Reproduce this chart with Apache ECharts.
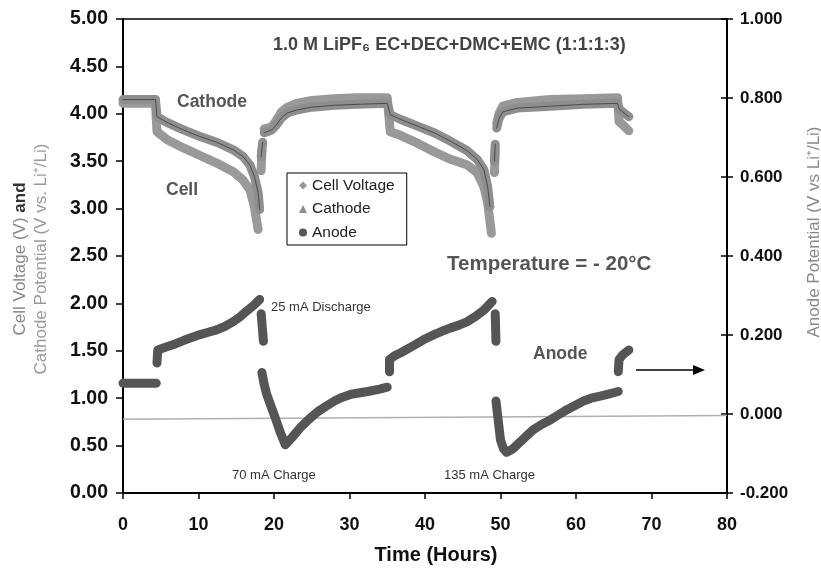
<!DOCTYPE html>
<html>
<head>
<meta charset="utf-8">
<script src="https://cdn.jsdelivr.net/npm/echarts@6/dist/echarts.min.js"></script>
<style>
html,body{margin:0;padding:0;background:#fff;}
#chart{width:821px;height:568px;}
</style>
</head>
<body>
<div id="chart"></div>
<script>
// ---- data (time in hours) ----
const xTicks = [0, 10, 20, 30, 40, 50, 60, 70, 80];

// Cell voltage (V), left axis — segments separated where the trace breaks
const cellSegments = [
  [[0,4.11],[4.3,4.11],[4.5,3.81],[5.8,3.73],[8,3.64],[10.2,3.56],[12.4,3.48],[14.6,3.39],[15.9,3.30],[16.8,3.20],[17.4,3.02],[17.9,2.78]],
  [[18.3,3.40],[18.4,3.62]],
  [[18.7,3.84],[19.7,3.86],[20.3,3.93],[21,4.02],[21.8,4.07],[23,4.11],[25,4.14],[28,4.16],[31,4.17],[35,4.17],
   [35.4,3.81],[36.8,3.77],[39,3.69],[41.2,3.60],[43.4,3.52],[45.6,3.46],[46.9,3.38],[47.8,3.23],[48.3,3.06],[48.8,2.74]],
  [[49.2,3.38],[49.3,3.62]],
  [[49.5,3.90],[49.8,4.00],[50.3,4.08],[52.2,4.12],[56.6,4.15],[61,4.16],[65.5,4.17],[65.7,3.92],[66.5,3.86],[67,3.82]]
];

// Cathode potential (V vs Li+/Li), left axis
const cathodeSegments = [
  [[0,4.15],[4.3,4.15],[4.5,3.97],[5.8,3.91],[8,3.83],[10.2,3.76],[12.4,3.70],[14.6,3.62],[15.9,3.55],[16.8,3.46],[17.4,3.34],[17.9,3.17],[18.1,2.99]],
  [[18.3,3.55],[18.5,3.70]],
  [[18.7,3.80],[19.7,3.83],[20.3,3.88],[21,3.96],[21.8,4.01],[23,4.04],[25,4.07],[28,4.09],[31,4.10],[35,4.11],
   [35.4,3.99],[36.8,3.94],[39,3.87],[41.2,3.80],[43.4,3.71],[45.6,3.61],[46.9,3.52],[47.8,3.41],[48.3,3.23],[48.6,3.02]],
  [[49.2,3.50],[49.3,3.68]],
  [[49.5,3.85],[49.8,3.95],[50.3,4.02],[52.2,4.06],[56.6,4.08],[61,4.10],[65.5,4.11],[65.7,4.05],[66.5,4.00],[67,3.97]]
];

// Anode potential (V vs Li+/Li), right axis
const anodeSegments = [
  [[0,0.078],[4.4,0.078]],
  [[4.5,0.129],[4.6,0.162],[5.8,0.170],[7,0.178],[8,0.186],[9,0.193],[10.2,0.201],[11.3,0.207],[12.4,0.213],[13.5,0.222],[14.6,0.234],[15.5,0.246],[16.4,0.261],[17.3,0.275],[18.1,0.290]],
  [[18.3,0.254],[18.6,0.184]],
  [[18.4,0.105],[18.7,0.075],[19.0,0.052],[19.5,0.025],[20.1,-0.006],[20.8,-0.045],[21.5,-0.078],[22.5,-0.057],[23.6,-0.032],[24.7,-0.012],[25.8,0.006],[27,0.021],[28,0.033],[29,0.042],[30.2,0.050],[32.4,0.057],[34,0.063],[35,0.068]],
  [[35.3,0.107],[35.3,0.138],[36,0.148],[36.8,0.155],[38,0.168],[39,0.179],[40,0.190],[41.2,0.201],[42.3,0.210],[43.4,0.218],[44.5,0.225],[45.6,0.234],[46.7,0.247],[47.8,0.263],[48.9,0.285]],
  [[49.3,0.254],[49.4,0.184]],
  [[49.4,0.033],[49.6,0.000],[50,-0.066],[50.4,-0.088],[50.8,-0.097],[51.5,-0.090],[52.2,-0.078],[53.3,-0.058],[54.4,-0.039],[55.5,-0.026],[56.6,-0.015],[57.7,-0.002],[58.8,0.011],[60,0.023],[61,0.033],[62,0.040],[63.2,0.045],[64.4,0.051],[65.6,0.057]],
  [[65.6,0.107],[65.7,0.138],[66.2,0.150],[67,0.162]]
];

// faint reference line near anode 0 V
const baseLine = [[0,-0.013],[80,-0.004]];

// ---- chart ----
const FONT = '"Liberation Sans", Arial, sans-serif';
const chart = echarts.init(document.getElementById('chart'), null, {renderer:'canvas'});

const series = [];
function addSegs(segs, name, color, width, yIdx, z) {
  segs.forEach(seg => series.push({
    type:'line', name:name, yAxisIndex:yIdx, data:seg, showSymbol:false, symbol:'none',
    animation:false, z:z, silent:true,
    lineStyle:{color:color, width:width, cap:'round', join:'round'},
    itemStyle:{color:color}
  }));
}
series.push({type:'line', name:'base', yAxisIndex:1, data:baseLine, showSymbol:false, symbol:'none',
  animation:false, silent:true, z:1, lineStyle:{color:'#b0b0b0', width:1.5}});
addSegs(cellSegments, 'Cell Voltage', '#999999', 9, 0, 2);
addSegs(cathodeSegments, 'Cathode', '#8e8e8e', 9, 0, 3);
addSegs(cathodeSegments, 'cathodeTrace', '#4a4a4a', 1, 0, 4);
addSegs(anodeSegments, 'Anode', '#555555', 9, 1, 5);

function label(text, x, y, font, fill) {
  return {type:'text', x:x, y:y, style:{text:text, font:font, fill:fill, verticalAlign:'middle', align:'left'}};
}

const option = {
  backgroundColor:'#fff',
  animation:false,
  grid:{left:123, right:94, top:19, bottom:75, show:true, borderColor:'#000', borderWidth:1.5,
        backgroundColor:'transparent', containLabel:false, outerBoundsMode:'none'},
  legend:{
    data:[{name:'Cell Voltage', icon:'diamond'},{name:'Cathode', icon:'triangle'},{name:'Anode', icon:'circle'}],
    orient:'vertical', left:287, top:173, padding:[4,12,4,12],
    borderColor:'#000', borderWidth:1, backgroundColor:'#fff',
    itemWidth:8, itemHeight:8, itemGap:6.5, selectedMode:false,
    textStyle:{fontFamily:FONT, fontSize:15.5, color:'#222', lineHeight:17}
  },
  xAxis:{
    type:'value', min:xTicks[0], max:xTicks[xTicks.length-1], interval:10,
    name:'Time (Hours)', nameLocation:'middle', nameGap:52,
    nameTextStyle:{fontFamily:FONT, fontSize:20, fontWeight:'bold', color:'#111', padding:[0,0,0,22]},
    axisLine:{lineStyle:{color:'#000', width:2}},
    axisTick:{length:6, lineStyle:{color:'#000', width:1.5}},
    axisLabel:{fontFamily:FONT, fontSize:18, fontWeight:'bold', color:'#111', margin:23},
    splitLine:{show:false}
  },
  yAxis:[
    {type:'value', position:'left', min:0, max:5, interval:0.5,
     axisLine:{show:true, lineStyle:{color:'#000', width:2}},
     axisTick:{show:true, length:7, lineStyle:{color:'#000', width:1.5}},
     axisLabel:{fontFamily:FONT, fontSize:19.5, fontWeight:'bold', color:'#111', margin:15,
       formatter:v=>v.toFixed(2)},
     splitLine:{show:false}},
    {type:'value', position:'right', min:-0.2, max:1.0, interval:0.2,
     axisLine:{show:true, lineStyle:{color:'#000', width:2}},
     axisTick:{show:true, length:6, lineStyle:{color:'#000', width:1.5}},
     axisLabel:{fontFamily:FONT, fontSize:17, fontWeight:'bold', color:'#111', margin:13,
       formatter:v=>v.toFixed(3)},
     splitLine:{show:false}},
    {type:'value', position:'right', min:-0.2, max:1.0, interval:0.2,
     axisLine:{show:false},
     axisTick:{show:true, inside:true, length:6, lineStyle:{color:'#000', width:1.5}},
     axisLabel:{show:false}, splitLine:{show:false}}
  ],
  series:series,
  graphic:[
    label('1.0 M LiPF\u2086 EC+DEC+DMC+EMC (1:1:1:3)', 273, 45, 'bold 18px '+FONT, '#444'),
    label('Cathode', 177, 102, 'bold 17.5px '+FONT, '#555'),
    label('Cell', 166, 190, 'bold 17.5px '+FONT, '#555'),
    label('Temperature = - 20\u00B0C', 447, 264, 'bold 20.5px '+FONT, '#555'),
    label('25 mA Discharge', 271, 307, '13px '+FONT, '#333'),
    label('70 mA Charge', 232, 475, '13px '+FONT, '#333'),
    label('135 mA Charge', 444, 475, '13px '+FONT, '#333'),
    label('Anode', 533, 354, 'bold 17.5px '+FONT, '#555'),
    {type:'line', shape:{x1:636, y1:370, x2:696, y2:370}, style:{stroke:'#000', lineWidth:1.5}},
    {type:'polygon', shape:{points:[[693,365],[705,370],[693,375]]}, style:{fill:'#000'}},
    {type:'text', x:20, y:259, rotation:Math.PI/2,
     style:{text:'{a|Cell Voltage (V) }{b|and}', verticalAlign:'middle', align:'center',
       rich:{a:{fontFamily:FONT, fontSize:17, fill:'#888', color:'#888'}, b:{fontFamily:FONT, fontSize:17, fontWeight:'bold', fill:'#333', color:'#333'}}}},
    {type:'text', x:41, y:259, rotation:Math.PI/2,
     style:{text:'Cathode Potential (V vs. Li\u207A/Li)', font:'17px '+FONT, fill:'#999', verticalAlign:'middle', align:'center'}},
    {type:'text', x:814, y:232, rotation:Math.PI/2,
     style:{text:'Anode Potential (V vs Li\u207A/Li)', font:'17px '+FONT, fill:'#888', verticalAlign:'middle', align:'center'}}
  ]
};
chart.setOption(option);
</script>
</body>
</html>
